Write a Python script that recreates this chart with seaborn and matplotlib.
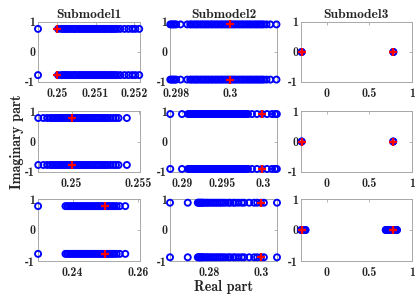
import matplotlib
matplotlib.use("Agg")
import matplotlib.pyplot as plt
import seaborn as sns
import pandas as pd

# eigenvalue real parts (each value is a conjugate pair +/- imag)
s1_r1_re = [0.24951, 0.25003, 0.25012, 0.25016, 0.25021, 0.25024, 0.25030, 0.25033, 0.25039,
            0.25044, 0.25047, 0.25052, 0.25058, 0.25061, 0.25066, 0.25070, 0.25075, 0.25079,
            0.25083, 0.25088, 0.25093, 0.25097, 0.25101, 0.25106, 0.25110, 0.25115, 0.25119,
            0.25124, 0.25128, 0.25133, 0.25138, 0.25142, 0.25146, 0.25151, 0.25156, 0.25164,
            0.25175, 0.25185, 0.25195, 0.25203, 0.25213]
s2_r1_re = [0.29778, 0.29783, 0.29789, 0.29794, 0.29800, 0.29816, 0.29841, 0.29852, 0.29858,
            0.29866, 0.29873, 0.29879, 0.29887, 0.29894, 0.29901, 0.29908, 0.29915, 0.29922,
            0.29930, 0.29936, 0.29944, 0.29951, 0.29958, 0.29966, 0.29972, 0.29980, 0.29987,
            0.29995, 0.30002, 0.30009, 0.30016, 0.30023, 0.30031, 0.30038, 0.30045, 0.30052,
            0.30060, 0.30067, 0.30074, 0.30081, 0.30089, 0.30096, 0.30103, 0.30110, 0.30117,
            0.30124, 0.30135, 0.30149, 0.30172]
s3_r1_re = [-0.292, 0.782]

s1_r2_re = [0.24752, 0.24790, 0.24818, 0.24842, 0.24856, 0.24871, 0.24885, 0.24899, 0.24915,
            0.24928, 0.24943, 0.24957, 0.24972, 0.24986, 0.25001, 0.25014, 0.25029, 0.25043,
            0.25058, 0.25071, 0.25086, 0.25100, 0.25114, 0.25129, 0.25143, 0.25157, 0.25171,
            0.25186, 0.25200, 0.25214, 0.25229, 0.25243, 0.25257, 0.25270, 0.25290, 0.25312,
            0.25331, 0.25350, 0.25412]
s2_r2_re = [0.28855, 0.29000, 0.29074, 0.29090, 0.29106, 0.29122, 0.29140, 0.29155, 0.29172,
            0.29189, 0.29204, 0.29221, 0.29238, 0.29253, 0.29270, 0.29287, 0.29303, 0.29320,
            0.29336, 0.29352, 0.29369, 0.29385, 0.29401, 0.29418, 0.29434, 0.29451, 0.29467,
            0.29483, 0.29500, 0.29516, 0.29532, 0.29549, 0.29565, 0.29582, 0.29598, 0.29615,
            0.29631, 0.29647, 0.29664, 0.29680, 0.29697, 0.29713, 0.29730, 0.29746, 0.29762,
            0.29779, 0.29795, 0.29815, 0.29864, 0.29926, 0.29988, 0.30050, 0.30111, 0.30148,
            0.30171]
s3_r2_re = [-0.292, 0.780]

s1_r3_re = [0.22942, 0.23780, 0.23830, 0.23885, 0.23940, 0.23990, 0.24045, 0.24100, 0.24150,
            0.24205, 0.24260, 0.24310, 0.24365, 0.24420, 0.24470, 0.24525, 0.24580, 0.24630,
            0.24685, 0.24740, 0.24790, 0.24845, 0.24900, 0.24950, 0.25005, 0.25060, 0.25110,
            0.25165, 0.25220, 0.25280, 0.25346, 0.25440, 0.25610]
s2_r3_re = [0.26460, 0.27150, 0.27540, 0.27570, 0.27600, 0.27640, 0.27670, 0.27710, 0.27750,
            0.27800, 0.27880, 0.27930, 0.28000, 0.28080, 0.28150, 0.28230, 0.28300, 0.28380,
            0.28450, 0.28530, 0.28620, 0.28730, 0.28800, 0.28920, 0.29000, 0.29120, 0.29250,
            0.29340, 0.29540, 0.29730, 0.29850, 0.30000, 0.30110, 0.30620]
s3_r3_re = [-0.298, -0.285, -0.272, -0.260, -0.248, 0.693, 0.712, 0.731, 0.750, 0.768,
            0.785, 0.800, 0.812, 0.823]

# imaginary magnitudes per panel
imag_rows = [[0.77, 0.92, 0.0], [0.77, 0.90, 0.0], [0.77, 0.88, 0.0]]
# nominal eigenvalues (red +)
nominal_re = [[[0.25], [0.30], [-0.292, 0.782]],
              [[0.25], [0.2999], [-0.292, 0.780]],
              [[0.25], [0.30], [-0.29, 0.772]]]

all_re = [[s1_r1_re, s2_r1_re, s3_r1_re],
          [s1_r2_re, s2_r2_re, s3_r2_re],
          [s1_r3_re, s2_r3_re, s3_r3_re]]

titles = ["Submodel1", "Submodel2", "Submodel3"]
xlims = [[(0.24951, 0.25215), (0.29777, 0.30174), (-0.3, 1.0)],
         [(0.2475, 0.2551), (0.28852, 0.30173), (-0.3, 1.0)],
         [(0.2294, 0.2606), (0.2646, 0.3062), (-0.3, 1.0)]]
xticks = [[[0.25, 0.251, 0.252], [0.298, 0.3], [0, 0.5, 1]],
          [[0.25, 0.255], [0.29, 0.295, 0.3], [0, 0.5, 1]],
          [[0.24, 0.26], [0.28, 0.3], [0, 0.5, 1]]]
xticklabels = [[["0.25", "0.251", "0.252"], ["0.298", "0.3"], ["0", "0.5", "1"]],
               [["0.25", "0.255"], ["0.29", "0.295", "0.3"], ["0", "0.5", "1"]],
               [["0.24", "0.26"], ["0.28", "0.3"], ["0", "0.5", "1"]]]

sns.set_style("white")
plt.rcParams["font.family"] = ["cmb10", "DejaVu Serif"]
plt.rcParams["axes.unicode_minus"] = False

W, H = 415, 295
fig = plt.figure(figsize=(W / 100, H / 100), dpi=100)

col_x = [(38, 140), (170, 277), (301, 412)]
row_y = [(22, 82), (111, 172), (199, 261)]
grey = "#a8a8a8"

for r in range(3):
    for c in range(3):
        x0, x1 = col_x[c]
        y0, y1 = row_y[r]
        ax = fig.add_axes([x0 / W, 1 - y1 / H, (x1 - x0) / W, (y1 - y0) / H])
        re = all_re[r][c]
        im = imag_rows[r][c]
        df = pd.DataFrame({"re": re + re, "im": [im] * len(re) + [-im] * len(re)})
        sns.scatterplot(data=df, x="re", y="im", ax=ax, marker="o", s=19,
                        color="blue", facecolor="none", edgecolor="blue",
                        linewidth=1.35, clip_on=False, zorder=3)
        nr = nominal_re[r][c]
        dn = pd.DataFrame({"re": nr + nr, "im": [im] * len(nr) + [-im] * len(nr)})
        sns.scatterplot(data=dn, x="re", y="im", ax=ax, marker="+", s=34,
                        color="red", linewidth=1.6, clip_on=False, zorder=4)
        ax.set_xlim(*xlims[r][c])
        ax.set_ylim(-1, 1)
        ax.set_xticks(xticks[r][c])
        ax.set_xticklabels(xticklabels[r][c])
        ax.set_yticks([-1, 0, 1])
        ax.set_yticklabels(["-1", "0", "1"])
        ax.set_xlabel("")
        ax.set_ylabel("")
        ax.tick_params(direction="in", top=True, right=True, length=2.5, width=0.6,
                       color=grey, labelsize=8.6)
        ax.tick_params(axis="x", pad=4)
        ax.tick_params(axis="y", pad=2)
        for sp in ax.spines.values():
            sp.set_color(grey)
            sp.set_linewidth(0.7)
        if r == 0:
            ax.set_title(titles[c], fontsize=9.8, pad=3)
        if r == 1 and c == 0:
            ax.set_ylabel("Imaginary part", fontsize=10.2, labelpad=1)
        if r == 2 and c == 1:
            ax.set_xlabel("Real part", fontsize=10.2, labelpad=1)

plt.savefig("out.png", dpi=100)
